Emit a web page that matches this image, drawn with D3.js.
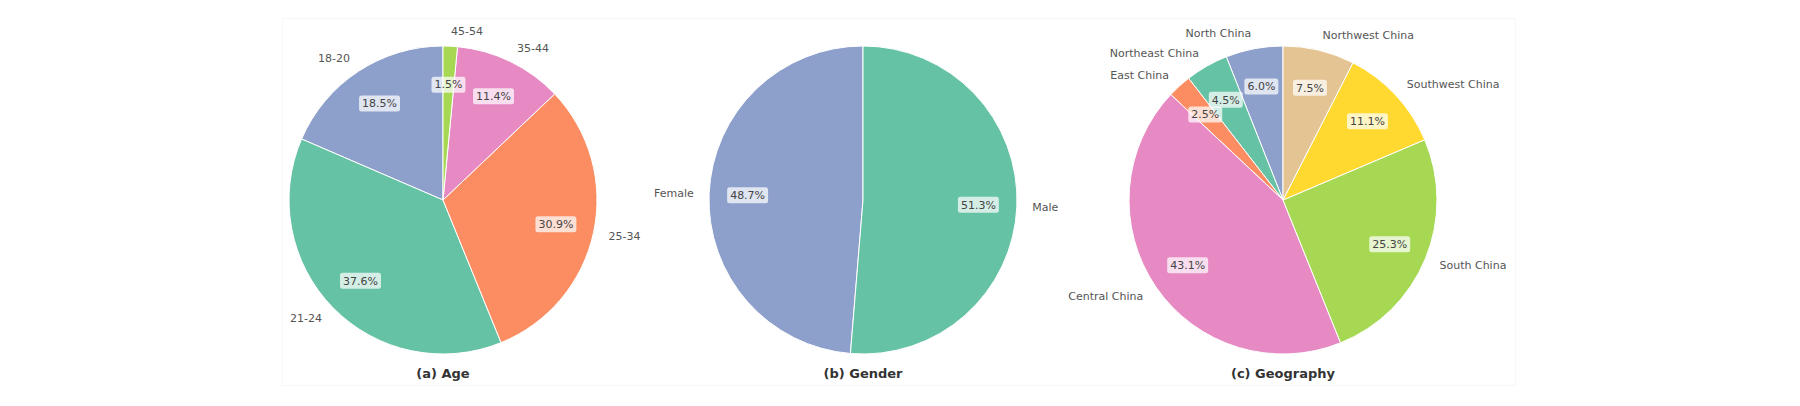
<!DOCTYPE html>
<html>
<head>
<meta charset="utf-8">
<script src="https://cdn.jsdelivr.net/npm/d3@7"></script>
<style>
  body { margin: 0; background: #fff; }
  text { font-family: "DejaVu Sans", sans-serif; }
</style>
</head>
<body>
<svg width="1800" height="406"></svg>
<script>
// three pies, matplotlib style (startangle 90, counter-clockwise)
var ageLabels = ["18-20", "21-24", "25-34", "35-44", "45-54"];
var ageValues = [18.5, 37.6, 30.9, 11.4, 1.5];
var ageColors = ["#8da0cb", "#66c2a5", "#fc8d62", "#e78ac3", "#a6d854"];

var genderLabels = ["Female", "Male"];
var genderValues = [48.7, 51.3];
var genderColors = ["#8da0cb", "#66c2a5"];

var geoLabels = ["North China", "Northeast China", "East China", "Central China",
                 "South China", "Southwest China", "Northwest China"];
var geoValues = [6.0, 4.5, 2.5, 43.1, 25.3, 11.1, 7.5];
var geoColors = ["#8da0cb", "#66c2a5", "#fc8d62", "#e78ac3", "#a6d854", "#ffd92f", "#e5c494"];

var titles = ["(a) Age", "(b) Gender", "(c) Geography"];

var svg = d3.select("svg");
var radius = 154, cy = 200;
var centers = [443, 863, 1283];

// faint figure frame
svg.append("rect")
    .attr("x", 282.5).attr("y", 18.5)
    .attr("width", 1233).attr("height", 367)
    .attr("fill", "none")
    .attr("stroke", "#f7f7f7");

var panels = [
  {labels: ageLabels, values: ageValues, colors: ageColors},
  {labels: genderLabels, values: genderValues, colors: genderColors},
  {labels: geoLabels, values: geoValues, colors: geoColors}
];

// counter-clockwise from the top: d3 angles run clockwise, so negate
var pie = d3.pie().sort(null)
    .startAngle(0).endAngle(-2 * Math.PI);
var arc = d3.arc().innerRadius(0).outerRadius(radius);

panels.forEach(function (p, k) {
    var g = svg.append("g")
        .attr("transform", "translate(" + centers[k] + "," + cy + ")");

    var arcs = pie(p.values);

    g.selectAll("path")
        .data(arcs)
        .enter()
        .append("path")
        .attr("d", arc)
        .attr("fill", function (d, i) { return p.colors[i]; })
        .attr("stroke", "#fff")
        .attr("stroke-width", 1);

    function mid(d) { return (d.startAngle + d.endAngle) / 2; }

    // outer category labels
    g.selectAll("text.lab")
        .data(arcs)
        .enter()
        .append("text")
        .attr("class", "lab")
        .attr("x", function (d) { return 1.1 * radius * Math.sin(mid(d)); })
        .attr("y", function (d) { return -1.1 * radius * Math.cos(mid(d)); })
        .attr("dy", "0.35em")
        .attr("text-anchor", function (d) { return Math.sin(mid(d)) < 0 ? "end" : "start"; })
        .attr("font-size", "11px")
        .attr("fill", "#555")
        .text(function (d, i) { return p.labels[i]; });

    // percentage labels with white boxes
    var pct = g.selectAll("g.pct")
        .data(arcs)
        .enter()
        .append("g")
        .attr("class", "pct")
        .attr("transform", function (d) {
            var x = 0.75 * radius * Math.sin(mid(d));
            var y = -0.75 * radius * Math.cos(mid(d));
            return "translate(" + x + "," + y + ")";
        });

    pct.append("rect")
        .attr("x", -20).attr("y", -8)
        .attr("width", 40).attr("height", 16)
        .attr("rx", 2.5)
        .attr("fill", "#fff")
        .attr("fill-opacity", 0.72);

    pct.append("text")
        .attr("text-anchor", "middle")
        .attr("dy", "0.35em")
        .attr("font-size", "11px")
        .attr("fill", "#444")
        .text(function (d) { return d.data.toFixed(1) + "%"; });

    // size the boxes to the text
    pct.each(function () {
        var grp = d3.select(this);
        var w = grp.select("text").node().getComputedTextLength();
        grp.select("rect").attr("x", -w / 2 - 3).attr("width", w + 6);
    });

    svg.append("text")
        .attr("x", centers[k])
        .attr("y", 373)
        .attr("dy", "0.35em")
        .attr("text-anchor", "middle")
        .attr("font-size", "13px")
        .attr("font-weight", "bold")
        .attr("fill", "#333")
        .text(titles[k]);
});
</script>
</body>
</html>
